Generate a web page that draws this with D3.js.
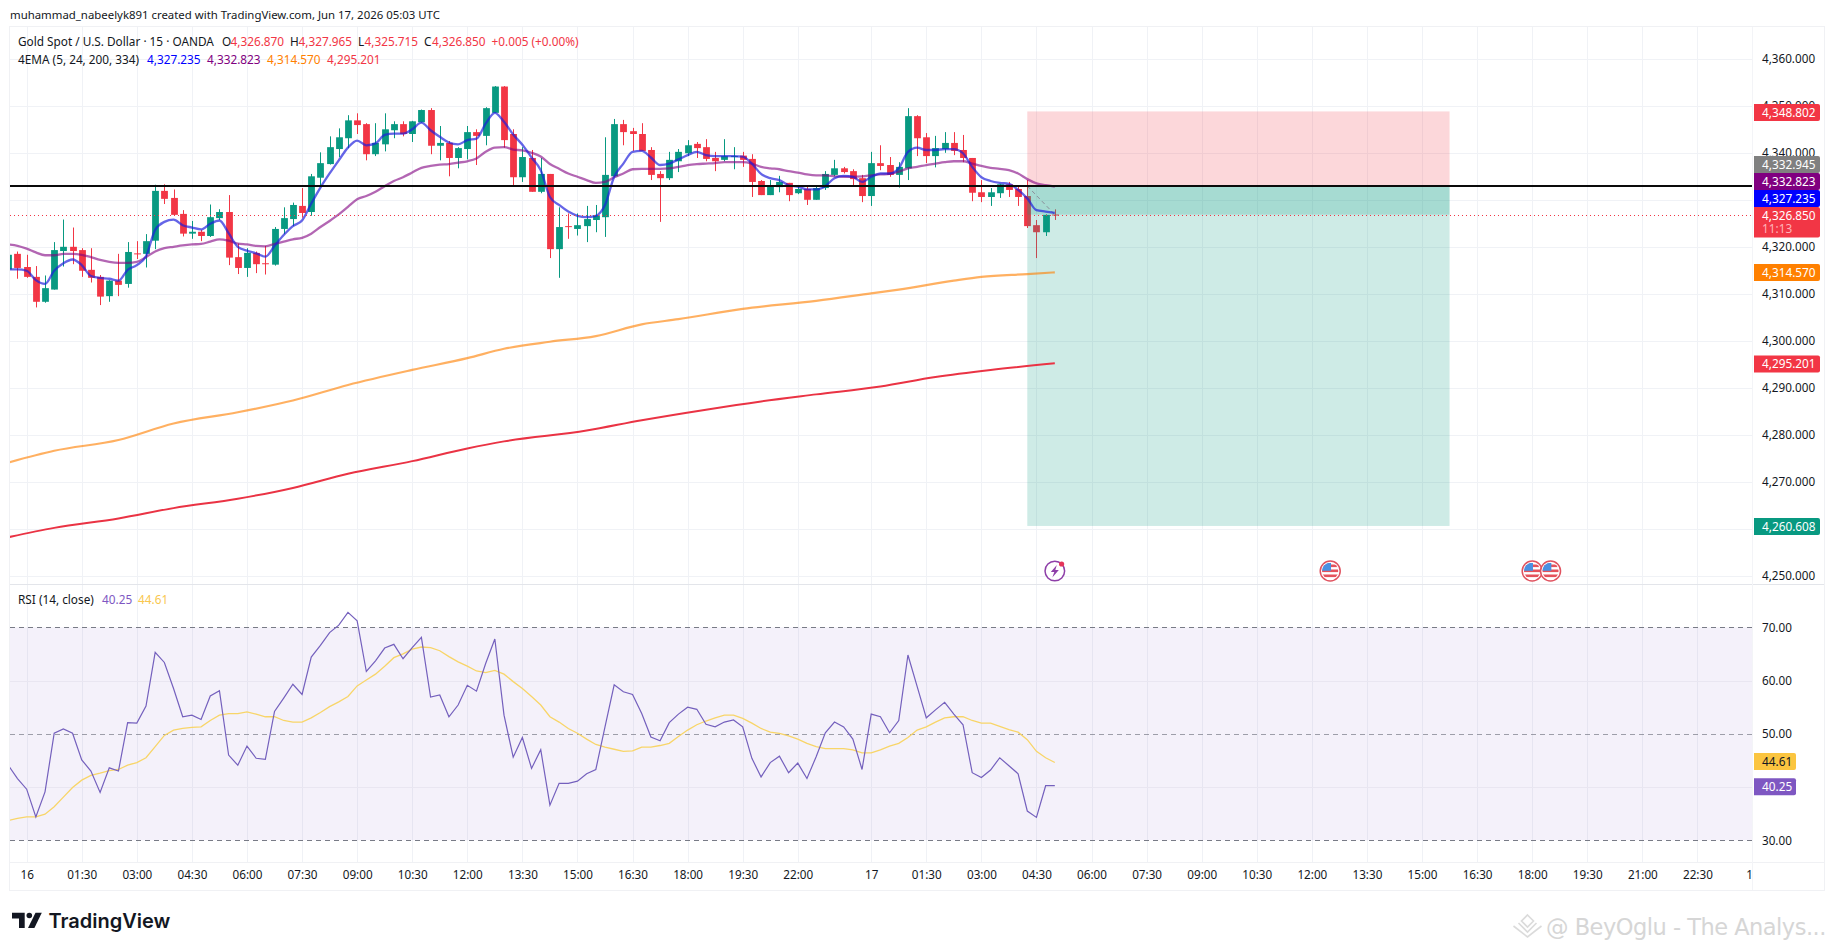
<!DOCTYPE html>
<html>
<head>
<meta charset="utf-8">
<title>XAUUSD 15m</title>
<script src="https://cdn.jsdelivr.net/npm/d3@7/dist/d3.min.js"></script>
<style>
html,body{margin:0;padding:0;background:#fff;overflow:hidden}
svg{display:block}
text{font-family:"Noto Sans","Liberation Sans",sans-serif;font-size:11.8px;fill:#131722}
</style>
</head>
<body>
<div id="chart"></div>
<script>
// 15-minute bars, oldest first
const opens = [4315.2,
4318.5,4315.7,4313.6,4308.3,4310.9,4319.1,4320.0,4319.3,4315.1,4313.6,4309.5,4312.8,4312.1,4318.6,4318.5,4321.3,4331.9,4330.4,4327.0,4322.8,4323.2,4322.3,4326.1,4327.4,4317.8,4315.5,4318.7,4316.5,
4316.2,4323.8,4325.9,4328.7,4327.4,4334.7,4337.6,4340.8,4343.1,4346.9,4346.1,4339.7,4341.8,4344.8,4346.1,4344.0,4346.5,4349.1,4341.5,4342.1,4338.9,4340.8,4344.4,4343.6,4348.5,4354.1,4344.0,4334.8,
4338.9,4331.7,4335.5,4319.5,4324.4,4323.8,4324.4,4325.7,4326.3,4335.0,4346.1,4344.6,4344.0,4340.6,4335.5,4334.6,4338.2,4339.9,4341.9,4341.2,4338.9,4338.5,4339.2,4339.4,4338.7,4334.0,4331.0,4332.7,4333.6,4331.4,4332.3,4330.0,4332.5,4335.3,4336.7,4336.1,4334.6,4330.8,4337.8,4337.4,4335.3,4336.7,4347.8,4343.3,4339.3,4340.8,4342.1,4340.6,4338.9,4331.6,4330.6,4331.4,4333.3,4332.3,4330.8,4324.6,4323.1,4326.87];
const highs = [4319.5,
4319.0,4318.3,4315.9,4313.9,4321.0,4325.8,4324.1,4319.7,4319.7,4314.0,4312.9,4318.5,4321.0,4321.2,4322.7,4333.2,4333.3,4332.2,4327.8,4325.5,4323.6,4329.0,4328.0,4331.0,4320.7,4319.7,4319.0,4320.2,
4324.2,4328.4,4329.4,4332.5,4335.5,4340.1,4343.5,4345.2,4348.0,4348.4,4346.3,4346.3,4348.4,4346.7,4346.7,4346.8,4349.2,4349.5,4345.7,4342.5,4341.2,4345.7,4345.0,4349.7,4354.2,4354.2,4345.0,4341.2,
4340.6,4338.9,4335.5,4328.4,4327.1,4327.1,4328.7,4328.9,4343.3,4347.2,4347.0,4345.3,4346.3,4341.2,4336.1,4340.2,4340.8,4342.7,4342.3,4342.9,4340.2,4342.9,4341.2,4340.2,4339.7,4334.2,4334.2,4335.1,4333.6,4333.1,4333.1,4333.1,4336.1,4338.5,4337.0,4336.5,4335.3,4340.2,4341.6,4339.1,4338.0,4349.5,4348.0,4344.2,4343.6,4344.4,4344.4,4343.8,4338.9,4334.2,4332.5,4333.4,4333.8,4333.1,4334.2,4325.7,4326.9,4327.965];
const lows = [4313.9,
4313.2,4313.4,4307.1,4308.1,4310.9,4315.8,4316.3,4313.6,4312.4,4307.6,4308.3,4309.5,4311.3,4317.4,4315.6,4319.5,4329.1,4326.6,4322.2,4321.7,4321.2,4322.1,4325.7,4316.1,4314.2,4313.6,4314.4,4314.1,
4316.0,4322.7,4324.4,4326.2,4326.6,4332.7,4337.5,4339.1,4341.0,4344.0,4338.4,4339.3,4340.3,4343.1,4343.5,4342.3,4346.4,4339.7,4338.4,4335.0,4336.7,4338.6,4337.4,4341.6,4348.5,4341.1,4332.9,4333.8,
4331.7,4331.4,4317.6,4313.4,4321.7,4322.4,4321.0,4323.1,4322.1,4334.9,4341.6,4340.4,4340.4,4334.2,4325.3,4334.2,4335.9,4339.3,4338.9,4338.2,4336.1,4338.2,4336.5,4337.0,4330.6,4331.0,4331.0,4331.6,4329.7,4331.2,4328.9,4330.0,4332.1,4335.0,4335.6,4333.1,4329.5,4328.7,4336.3,4334.9,4332.6,4334.2,4339.3,4337.8,4336.9,4340.0,4339.5,4338.0,4329.7,4329.5,4328.7,4330.4,4330.6,4328.7,4324.0,4317.6,4322.3,4325.715];
const closes = [4318.3,
4315.5,4313.6,4308.3,4311.2,4319.3,4320.0,4319.1,4314.9,4313.4,4309.4,4312.8,4311.9,4318.9,4318.5,4321.2,4331.9,4330.2,4326.8,4322.8,4323.2,4322.3,4326.3,4327.4,4317.7,4315.5,4318.7,4316.3,4316.4,
4323.8,4326.1,4328.9,4327.2,4335.0,4337.8,4341.2,4343.3,4346.9,4345.9,4339.7,4342.1,4345.0,4346.1,4344.0,4346.7,4349.1,4341.5,4342.1,4338.9,4341.0,4344.4,4343.6,4349.5,4354.1,4342.7,4334.8,4339.1,
4331.7,4335.5,4319.5,4324.2,4324.3,4324.6,4325.9,4326.7,4335.3,4346.1,4344.4,4344.0,4340.4,4335.3,4334.6,4338.5,4340.2,4341.6,4341.0,4338.7,4338.2,4339.3,4339.3,4338.5,4333.8,4331.0,4332.9,4333.8,4331.0,4332.3,4330.0,4332.5,4335.5,4336.7,4335.9,4334.4,4330.8,4337.8,4337.2,4335.3,4337.0,4347.8,4343.1,4339.3,4341.0,4342.1,4340.4,4338.9,4331.5,4330.6,4331.6,4333.3,4332.1,4330.6,4324.4,4323.1,4326.8,4326.85];

// EMA(5) and EMA(24), one value per bar
const ema5 = [4315.2,
4315.2,4314.9,4312.9,4312.1,4314.9,4316.5,4317.3,4316.1,4313.8,4313.4,4313.2,4312.8,4315.1,4316.1,4318.0,4323.6,4325.3,4325.8,4324.6,4324.1,4323.7,4324.9,4325.6,4322.9,4320.0,4319.2,4318.6,4317.9,
4320.2,4322.5,4324.4,4325.6,4329.2,4332.6,4335.6,4338.4,4341.1,4342.6,4341.6,4342.0,4343.8,4344.1,4344.1,4345.0,4346.4,4344.8,4343.4,4342.2,4341.8,4342.7,4343.0,4346.2,4348.5,4346.6,4343.9,4341.7,
4339.0,4336.3,4330.6,4328.9,4327.5,4326.6,4326.3,4326.6,4328.9,4334.9,4337.7,4340.2,4340.4,4339.0,4337.4,4337.7,4338.6,4339.5,4340.2,4339.5,4339.3,4339.3,4339.3,4339.2,4337.7,4335.5,4334.6,4334.2,4333.1,4332.8,4332.2,4332.2,4332.9,4334.6,4335.1,4334.9,4333.8,4334.9,4335.6,4335.6,4336.7,4340.2,4341.1,4340.6,4340.6,4340.8,4340.8,4339.9,4337.0,4334.8,4334.0,4333.6,4333.4,4332.1,4330.3,4327.8,4327.5,4327.235];
const ema24 = [4320.5,
4320.2,4319.6,4318.8,4318.2,4318.2,4318.5,4318.5,4318.3,4317.8,4317.2,4316.8,4316.6,4316.6,4316.8,4317.8,4319.0,4319.7,4320.0,4320.3,4320.5,4320.6,4321.1,4321.6,4321.3,4320.7,4320.5,4320.2,4320.1,
4320.6,4321.1,4321.6,4321.9,4322.8,4324.2,4325.5,4326.9,4328.5,4330.1,4330.8,4331.7,4332.9,4334.0,4334.8,4335.8,4336.8,4337.2,4337.5,4337.6,4337.9,4338.2,4338.8,4340.2,4341.1,4341.2,4340.7,4340.5,
4340.0,4339.2,4337.6,4336.6,4335.6,4334.9,4334.2,4333.6,4333.8,4334.8,4335.6,4336.5,4336.6,4336.6,4336.6,4336.7,4337.0,4337.4,4337.6,4337.7,4337.8,4338.0,4338.0,4338.0,4337.7,4337.0,4336.7,4336.5,4336.1,4335.8,4335.4,4335.2,4335.2,4335.0,4334.9,4334.9,4335.0,4335.2,4335.4,4335.5,4336.0,4336.7,4337.0,4337.4,4337.7,4338.0,4338.2,4338.2,4337.7,4337.2,4336.8,4336.6,4336.3,4335.6,4334.4,4333.5,4333.1,4332.823];

// Slow EMAs, read at the bars listed next to each
const ema200Bars = [0,5,12,18,25,31,37,44,50,54,59,64,69,73,80,88,94,97,103,106,111,114];
const ema200 = [4274.1,4276.6,4278.9,4282.4,4284.8,4287.3,4290.6,4293.8,4296.3,4298.3,4299.8,4301.0,4303.5,4304.6,4306.8,4308.5,4310.1,4310.9,4312.8,4313.6,4314.2,4314.57];
const ema334Bars = [0,5,12,18,25,31,37,44,50,54,63,69,76,82,88,95,101,107,114];
const ema334 = [4258.2,4260.2,4262.2,4264.4,4266.4,4268.7,4271.7,4274.4,4277.1,4278.6,4280.9,4283.1,4285.35,4287.1,4288.6,4290.3,4292.3,4293.8,4295.201];

// RSI(14) and its moving average
const rsi = [44.1,
41.6,39.6,34.4,39.1,50.1,50.9,50.1,45.1,43.0,39.0,43.6,43.0,52.1,52.0,55.2,65.3,63.4,58.5,53.2,53.5,52.7,57.1,58.1,46.0,44.1,47.7,45.4,45.2,54.2,56.7,59.3,57.4,64.4,66.6,69.0,70.4,72.8,71.2,61.7,63.7,66.1,66.8,64.1,66.2,68.1,56.9,57.3,53.2,55.4,59.1,58.0,63.2,67.8,53.5,45.6,49.3,43.5,47.0,36.6,40.7,
40.7,41.1,42.5,43.3,51.3,59.2,57.9,57.4,53.8,49.4,48.7,52.1,53.7,55.0,54.6,51.8,51.3,52.2,52.6,51.3,45.4,41.9,44.6,45.8,42.7,44.5,41.6,45.7,50.2,52.2,51.3,49.0,43.3,53.7,53.2,50.2,52.5,64.8,58.9,53.0,54.5,55.9,53.7,51.7,42.7,41.8,43.2,45.5,44.0,42.5,35.5,34.3,40.25,40.25];
const rsiMa = [33.7,
34.1,34.4,34.4,34.9,36.3,38.1,39.9,41.3,42.2,42.6,43.1,43.3,44.1,44.6,45.5,47.6,49.7,50.7,51.0,51.2,51.3,52.5,53.5,53.8,53.8,54.1,53.7,53.2,53.2,52.5,52.2,52.2,53.0,54.0,55.1,56.0,57.0,59.0,60.1,61.2,62.7,64.3,65.0,65.9,66.3,66.2,65.6,64.5,63.5,62.7,61.8,61.5,61.9,61.2,59.8,58.5,57.0,55.4,53.2,52.2,
51.0,50.1,49.0,48.0,47.5,47.1,46.7,46.8,47.5,47.5,47.8,48.2,49.5,50.7,51.7,52.4,53.0,53.5,53.5,52.9,52.0,51.0,50.3,50.1,49.6,49.0,48.2,47.6,47.2,47.2,47.2,47.0,46.4,46.4,47.0,47.7,48.2,49.3,50.7,51.3,52.2,53.0,53.2,53.2,52.5,52.0,52.0,51.4,50.8,50.3,48.9,46.7,45.5,44.61];

// Time axis
const tickBars = [2,8,14,20,26,32,38,44,50,56,62,68,74,80,86,94,100,106,112,118,124,130,136,142,148,154,160,166,172,178,184,190];
const tickLabels = ["16","01:30","03:00","04:30","06:00","07:30","09:00","10:30","12:00","13:30","15:00","16:30","18:00","19:30","22:00","17","01:30","03:00","04:30","06:00","07:30","09:00","10:30","12:00","13:30","15:00","16:30","18:00","19:30","21:00","22:30","18"];
const priceGrid = [4250,4260,4270,4280,4290,4300,4310,4320,4330,4340,4350,4360];
const priceLabels = [4250,4270,4280,4290,4300,4310,4320,4340,4350,4360];
const rsiGrid = [40,60];
const rsiLabels = [30,50,60,70];

// Levels
const supportLevel = 4332.945;
const entryPrice = 4332.945;
const stopPrice = 4348.802;
const targetPrice = 4260.608;
const lastPrice = 4326.85;
const positionBars = [111,157];
const flagEventBars = [144,166,168];
const coinEventBar = 114;

const width = 1835, height = 951;
const paneLeft = 10, paneRight = 1752, frameRight = 1824;
const priceTop = 27, priceBottom = 584, rsiBottom = 862, frameBottom = 890;

const svg = d3.select("#chart").append("svg").attr("width", width).attr("height", height);
const defs = svg.append("defs");
defs.append("clipPath").attr("id","clip-price").append("rect")
  .attr("x",paneLeft).attr("y",priceTop).attr("width",paneRight-paneLeft).attr("height",priceBottom-priceTop);
defs.append("clipPath").attr("id","clip-rsi").append("rect")
  .attr("x",paneLeft).attr("y",priceBottom).attr("width",paneRight-paneLeft).attr("height",rsiBottom-priceBottom);
defs.append("clipPath").attr("id","clip-time").append("rect")
  .attr("x",paneLeft).attr("y",rsiBottom).attr("width",paneRight-paneLeft).attr("height",frameBottom-rsiBottom);

const step = 9.18;
const x = d3.scaleLinear().domain([0,190]).range([8.3, 8.3 + 190*step]);
const y = d3.scaleLinear().domain([4340,4250]).range([152.8, 575.8]);
const yRsi = d3.scaleLinear().domain([70,30]).range([627.3, 840.3]);
const bodyWidth = 6.8;

const bars = opens.map((o,i)=>({i, o, h:highs[i], l:lows[i], c:closes[i]}));
const upColor = "#089981", downColor = "#f23645";

// Frame and pane separators
svg.append("rect").attr("x",paneLeft-0.5).attr("y",priceTop-0.5)
  .attr("width",frameRight-paneLeft+1).attr("height",frameBottom-priceTop+1)
  .attr("fill","none").attr("stroke","#f0f1f4");

const gridColor = "#f0f2f6";
const grid = svg.append("g");
grid.append("g").attr("clip-path","url(#clip-price)").selectAll("line").data(priceGrid).join("line")
  .attr("x1",paneLeft).attr("x2",paneRight)
  .attr("y1",d=>Math.round(y(d))+0.5).attr("y2",d=>Math.round(y(d))+0.5)
  .attr("stroke",gridColor);
grid.append("g").selectAll("line").data(tickBars.slice(0,-1)).join("line")
  .attr("x1",d=>Math.round(x(d))+0.5).attr("x2",d=>Math.round(x(d))+0.5)
  .attr("y1",priceTop).attr("y2",rsiBottom)
  .attr("stroke",gridColor);

// Short position box: stop, target and the part already in profit
const posX = x(positionBars[0]), posW = x(positionBars[1]) - x(positionBars[0]);
const positionLayer = svg.append("g").attr("clip-path","url(#clip-price)");

// Candles
const candleLayer = svg.append("g").attr("clip-path","url(#clip-price)");
const candle = candleLayer.selectAll("g").data(bars).join("g");
candle.append("line")
  .attr("x1",d=>Math.round(x(d.i))+0.5).attr("x2",d=>Math.round(x(d.i))+0.5)
  .attr("y1",d=>y(d.h)).attr("y2",d=>y(d.l))
  .attr("stroke",d=>d.c>=d.o?upColor:downColor);
candle.append("rect")
  .attr("x",d=>Math.round(x(d.i))+0.5-bodyWidth/2).attr("width",bodyWidth)
  .attr("y",d=>y(Math.max(d.o,d.c)))
  .attr("height",d=>Math.max(1,Math.abs(y(d.o)-y(d.c))))
  .attr("fill",d=>d.c>=d.o?upColor:downColor);

positionLayer.raise();
positionLayer.append("rect").attr("x",posX).attr("width",posW)
  .attr("y",y(stopPrice)).attr("height",y(entryPrice)-y(stopPrice))
  .attr("fill",downColor).attr("fill-opacity",0.2);
positionLayer.append("rect").attr("x",posX).attr("width",posW)
  .attr("y",y(entryPrice)).attr("height",y(targetPrice)-y(entryPrice))
  .attr("fill",upColor).attr("fill-opacity",0.2);
positionLayer.append("rect").attr("x",posX).attr("width",posW)
  .attr("y",y(entryPrice)).attr("height",y(lastPrice)-y(entryPrice))
  .attr("fill",upColor).attr("fill-opacity",0.2);
positionLayer.append("line")
  .attr("x1",posX).attr("x2",x(coinEventBar))
  .attr("y1",y(entryPrice)).attr("y2",y(lastPrice))
  .attr("stroke","#8a8f9a").attr("stroke-width",1).attr("stroke-dasharray","4 3");

// Moving averages
const priceLine = d3.line().x(d=>x(d.i)).y(d=>y(d.v)).curve(d3.curveMonotoneX);
const toSeries = (vals,idx) => vals.map((v,k)=>({i: idx ? idx[k] : k, v}));
const emaLayer = svg.append("g").attr("clip-path","url(#clip-price)").attr("fill","none");
emaLayer.append("path").attr("d",priceLine(toSeries(ema334,ema334Bars)))
  .attr("stroke","#ea3344").attr("stroke-width",2);
emaLayer.append("path").attr("d",priceLine(toSeries(ema200,ema200Bars)))
  .attr("stroke","#ff8000").attr("stroke-opacity",0.62).attr("stroke-width",2.2);
emaLayer.append("path").attr("d",priceLine(toSeries(ema24)))
  .attr("stroke","#800080").attr("stroke-opacity",0.6).attr("stroke-width",2.3);
emaLayer.append("path").attr("d",priceLine(toSeries(ema5)))
  .attr("stroke","#1c1cdc").attr("stroke-opacity",0.68).attr("stroke-width",2.3);

// Horizontal level and last-price marker
const levelLayer = svg.append("g").attr("clip-path","url(#clip-price)");
levelLayer.append("line").attr("x1",paneLeft).attr("x2",paneRight)
  .attr("y1",y(supportLevel)).attr("y2",y(supportLevel))
  .attr("stroke","#0a0a0a").attr("stroke-width",2);
levelLayer.append("line").attr("x1",paneLeft).attr("x2",paneRight)
  .attr("y1",Math.round(y(lastPrice))+0.5).attr("y2",Math.round(y(lastPrice))+0.5)
  .attr("stroke",downColor).attr("stroke-dasharray","1 3");

// RSI pane
const rsiLayer = svg.append("g").attr("clip-path","url(#clip-rsi)");
rsiLayer.append("rect").attr("x",paneLeft).attr("width",paneRight-paneLeft)
  .attr("y",yRsi(70)).attr("height",yRsi(30)-yRsi(70))
  .attr("fill","#7e57c2").attr("fill-opacity",0.085);
rsiLayer.selectAll("line.g").data(rsiGrid).join("line")
  .attr("class","g").attr("x1",paneLeft).attr("x2",paneRight)
  .attr("y1",d=>Math.round(yRsi(d))+0.5).attr("y2",d=>Math.round(yRsi(d))+0.5)
  .attr("stroke","#e9e6f1");
rsiLayer.selectAll("line.b").data([70,50,30]).join("line")
  .attr("class","b").attr("x1",paneLeft).attr("x2",paneRight)
  .attr("y1",d=>Math.round(yRsi(d))+0.5).attr("y2",d=>Math.round(yRsi(d))+0.5)
  .attr("stroke","#787b86").attr("stroke-opacity",d=>d===50?0.7:1).attr("stroke-dasharray","5 4");
const rsiLine = d3.line().x(d=>x(d.i)).y(d=>yRsi(d.v));
rsiLayer.append("path").attr("d",rsiLine(toSeries(rsiMa))).attr("fill","none")
  .attr("stroke","#f8d568").attr("stroke-width",1.3);
rsiLayer.append("path").attr("d",rsiLine(toSeries(rsi))).attr("fill","none")
  .attr("stroke","#7460bd").attr("stroke-width",1.2);

// Pane dividers
svg.append("line").attr("x1",paneLeft).attr("x2",frameRight).attr("y1",priceBottom+0.5).attr("y2",priceBottom+0.5).attr("stroke","#e3e5ea");
svg.append("line").attr("x1",paneLeft).attr("x2",frameRight).attr("y1",rsiBottom+0.5).attr("y2",rsiBottom+0.5).attr("stroke","#f0f1f4");
svg.append("line").attr("x1",paneRight+0.5).attr("x2",paneRight+0.5).attr("y1",priceTop).attr("y2",frameBottom).attr("stroke","#f3f4f7");

// Axes
const styleAxis = g => { g.select(".domain").remove(); g.selectAll("text").style("font-size","11.7px").attr("fill","#131722"); };
svg.append("g").attr("transform",`translate(${paneRight},-0.5)`)
  .call(d3.axisRight(y).tickValues(priceLabels).tickSize(0).tickPadding(10).tickFormat(d3.format(",.3f")))
  .call(styleAxis);
svg.append("g").attr("transform",`translate(${paneRight},0)`)
  .call(d3.axisRight(yRsi).tickValues(rsiLabels).tickSize(0).tickPadding(10).tickFormat(d3.format(".2f")))
  .call(styleAxis);
// The last label sits on the axis edge and is cut by the pane boundary
svg.append("g").attr("clip-path","url(#clip-time)").append("g").attr("transform",`translate(0,${rsiBottom})`)
  .call(d3.axisBottom(x).tickValues(tickBars).tickSize(0).tickPadding(9).tickFormat((d,k)=>tickLabels[k]))
  .call(styleAxis);

// Scale tags on the right edge
const tags = [
  {label:d3.format(",.3f")(stopPrice), cy:112.5, fill:downColor},
  {label:d3.format(",.3f")(entryPrice), cy:164.5, fill:"#808080"},
  {label:"4,332.823", cy:181.5, fill:"#800080"},
  {label:"4,327.235", cy:198.5, fill:"#0000ff"},
  {label:"4,314.570", cy:272.5, fill:"#ff8000"},
  {label:"4,295.201", cy:364, fill:downColor},
  {label:d3.format(",.3f")(targetPrice), cy:y(targetPrice)+0.6, fill:upColor},
];
const tagLayer = svg.append("g");
const tagPath = (top,h,w) => `M1754,${top}H${1754+w-2}q2,0 2,2V${top+h-2}q0,2 -2,2H1754Z`;
tags.forEach(t=>{
  tagLayer.append("path").attr("d",tagPath(t.cy-8.5,17,66)).attr("fill",t.fill);
  tagLayer.append("text").attr("x",1762).attr("y",t.cy+4.2).style("fill","#fff").text(t.label);
});
tagLayer.append("path").attr("d",tagPath(207,30.5,66)).attr("fill",downColor);
tagLayer.append("text").attr("x",1762).attr("y",219.8).style("fill","#fff").text("4,326.850");
tagLayer.append("text").attr("x",1762).attr("y",233).style("fill","#ffb3b9").text("11:13");
[{label:"44.61",v:44.61,fill:"#fbc540",c:"#131722"},{label:"40.25",v:40.25,fill:"#7e57c2",c:"#fff"}].forEach(t=>{
  const cy = t.v>42 ? yRsi(t.v)-1 : yRsi(t.v)+1;
  tagLayer.append("path").attr("d",tagPath(cy-8.5,17,42)).attr("fill",t.fill);
  tagLayer.append("text").attr("x",1762).attr("y",cy+4.2).style("fill",t.c).text(t.label);
});

// Header and legends
const addText = (g,px,py,str,fill) => g.append("text").attr("x",px).attr("y",py).style("fill",fill||"#131722").text(str);
const legend = svg.append("g");
addText(legend,10,19,"muhammad_nabeelyk891 created with TradingView.com, Jun 17, 2026 05:03 UTC").style("font-size","11.4px");
addText(legend,18,46,"Gold Spot / U.S. Dollar · 15 · OANDA");
[["O",222,"4,326.870",230.5],["H",290,"4,327.965",298.5],["L",358,"4,325.715",364.5],["C",424,"4,326.850",432]].forEach(p=>{
  addText(legend,p[1],46,p[0]);
  addText(legend,p[3],46,p[2],downColor);
});
addText(legend,491.5,46,"+0.005 (+0.00%)",downColor);
addText(legend,18,63.5,"4EMA (5, 24, 200, 334)");
addText(legend,147,63.5,"4,327.235","#0000ff");
addText(legend,207,63.5,"4,332.823","#800080");
addText(legend,267,63.5,"4,314.570","#ff8000");
addText(legend,327,63.5,"4,295.201",downColor);
addText(legend,18,604,"RSI (14, close)");
addText(legend,102,604,"40.25","#7e57c2");
addText(legend,138,604,"44.61","#f9c74f");

// Event markers under the candles
const eventY = 571;
const coin = svg.append("g").attr("transform",`translate(${x(coinEventBar)},${eventY})`);
coin.append("circle").attr("r",9.8).attr("fill","#fff").attr("stroke","#8e3fa8").attr("stroke-width",1.5);
coin.append("path").attr("d","M2,-6 L-4,1 H-0.5 L-2.5,6.5 L4,-1 H0.5 Z").attr("fill","#8e3fa8");
coin.append("circle").attr("cx",6.8).attr("cy",-7).attr("r",2.6).attr("fill","#e5345a");
flagEventBars.forEach(b=>{
  const g = svg.append("g").attr("transform",`translate(${x(b)},${eventY})`);
  const id = "flag-"+b;
  defs.append("clipPath").attr("id",id).append("circle").attr("r",8.2);
  g.append("circle").attr("r",10).attr("fill","#fff").attr("stroke","#e0525f").attr("stroke-width",1.5);
  const f = g.append("g").attr("clip-path",`url(#${id})`);
  f.append("rect").attr("x",-8.2).attr("y",-8.2).attr("width",16.4).attr("height",16.4).attr("fill","#fff");
  [-6.5,-1.5,3.5].forEach(sy=>f.append("rect").attr("x",-8.2).attr("y",sy).attr("width",16.4).attr("height",2.6).attr("fill","#e5525c"));
  f.append("rect").attr("x",-8.2).attr("y",-8.2).attr("width",9).attr("height",8).attr("fill","#4a90e2");
});

// Brand mark
const brand = svg.append("g");
brand.append("path").attr("d","M12,912.7 H24.7 V928 H19 V918.4 H12 Z").attr("fill","#131722");
brand.append("circle").attr("cx",29.3).attr("cy",915.5).attr("r",2.8).attr("fill","#131722");
brand.append("path").attr("d","M35.5,912.7 H41.8 L34.4,928 H28 Z").attr("fill","#131722");
brand.append("text").attr("x",48.5).attr("y",928).style("font-family","Inter,sans-serif").style("font-weight","600").style("font-size","20px").text("TradingView");

// Repost credit
const credit = svg.append("g").style("opacity",0.9);
const mark = credit.append("g").attr("transform","translate(1527.5,926)").attr("fill","none").attr("stroke","#d8d8d8").attr("stroke-width",1.6);
mark.append("path").attr("d","M0,-11 L6,-5 L0,1 L-6,-5 Z");
mark.append("path").attr("d","M-9,-3 L0,6 L9,-3");
mark.append("path").attr("d","M-14,0 L0,11 L14,0");
credit.append("text").attr("x",1546).attr("y",935)
  .style("font-family","'DejaVu Sans',sans-serif").style("font-size","22.5px")
  .style("fill","#d2d2d2").style("letter-spacing","-0.5px").text("@ BeyOglu - The Analys...");
</script>
</body>
</html>
